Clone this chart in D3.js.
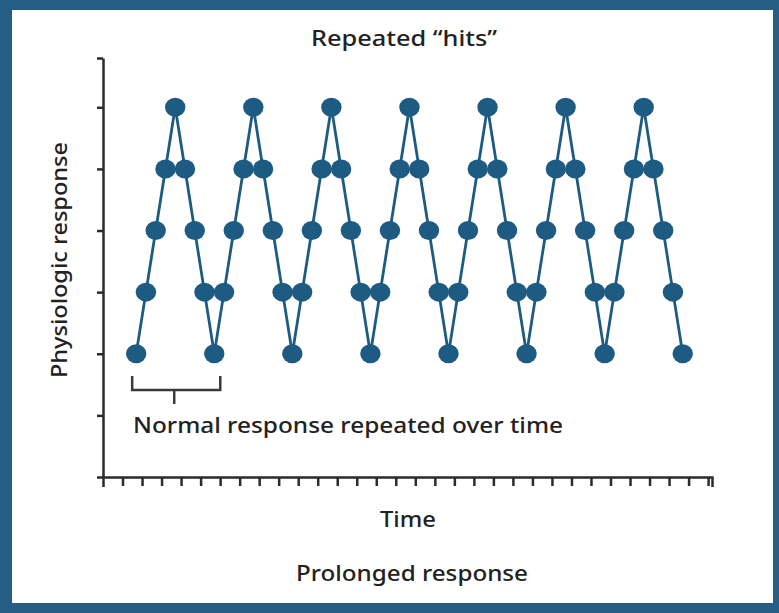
<!DOCTYPE html>
<html>
<head>
<meta charset="utf-8">
<script src="https://cdn.jsdelivr.net/npm/d3@7"></script>
<style>
  html, body { margin: 0; padding: 0; background: #ffffff; }
  svg { display: block; }
  text { font-family: "Noto Sans", "Open Sans", sans-serif; fill: #222222; font-weight: 500; }
</style>
</head>
<body>
<script>
// Time steps (one per measured response) and the response level at each step
const timeSteps = d3.range(0, 57);
const responseLevels = [
  2, 3, 4, 5, 6, 5, 4, 3, 2,
  3, 4, 5, 6, 5, 4, 3, 2,
  3, 4, 5, 6, 5, 4, 3, 2,
  3, 4, 5, 6, 5, 4, 3, 2,
  3, 4, 5, 6, 5, 4, 3, 2,
  3, 4, 5, 6, 5, 4, 3, 2,
  3, 4, 5, 6, 5, 4, 3, 2
];
// Unlabelled tick marks
const yTickValues = [0, 1, 2, 3, 4, 5, 6, 6.8];
const xTickValues = d3.range(-1.4, 59, 2);
// Bracket marks the first full response (steps 0 to 8)
const bracketSpan = [0, 8];

const titleText = "Repeated \u201chits\u201d";
const yLabelText = "Physiologic response";
const xLabelText = "Time";
const bracketText = "Normal response repeated over time";
const footerText = "Prolonged response";

const W = 779, H = 613;
const blue = "#1e5b83";
const frameBlue = "#255e84";
const ink = "#2b2b2b";

const svg = d3.select("body").append("svg")
  .attr("width", W).attr("height", H);

// Frame
svg.append("rect").attr("x", 0).attr("y", 0).attr("width", W).attr("height", H)
  .attr("fill", frameBlue);
svg.append("rect").attr("x", 12).attr("y", 10).attr("width", 761).attr("height", 593)
  .attr("fill", "#ffffff");

const x = d3.scaleLinear().domain([-3.4, 59]).range([103, 712]);
const y = d3.scaleLinear().domain([0, 6.8]).range([477, 58]);

// Axes
const yAxis = d3.axisLeft(y).tickValues(yTickValues).tickFormat("")
  .tickSize(6).tickSizeOuter(0);
const xAxis = d3.axisBottom(x).tickValues(xTickValues).tickFormat("")
  .tickSize(9).tickSizeOuter(10);

const gy = svg.append("g").attr("transform", `translate(${x(-3.4)},0)`).call(yAxis);
const gx = svg.append("g").attr("transform", `translate(0,${y(0)})`).call(xAxis);
[gx, gy].forEach(g => {
  g.select(".domain").attr("stroke", ink).attr("stroke-width", 2.5);
  g.selectAll(".tick line").attr("stroke", ink).attr("stroke-width", 2.5);
});

// Response line and points
const pts = timeSteps.map((t, i) => [t, responseLevels[i]]);
svg.append("path")
  .datum(pts)
  .attr("fill", "none")
  .attr("stroke", blue)
  .attr("stroke-width", 2.8)
  .attr("d", d3.line().x(d => x(d[0])).y(d => y(d[1])));

svg.append("g").selectAll("ellipse")
  .data(pts)
  .join("ellipse")
  .attr("cx", d => x(d[0]))
  .attr("cy", d => y(d[1]))
  .attr("rx", 10.2)
  .attr("ry", 9.5)
  .attr("fill", blue);

// Bracket under the first response
const bx0 = x(bracketSpan[0]) - 4, bx1 = x(bracketSpan[1]) + 6;
const bTop = 376, bBot = 390;
svg.append("path")
  .attr("fill", "none").attr("stroke", "#3a3a3a").attr("stroke-width", 2.5)
  .attr("d", `M${bx0},${bTop}V${bBot}H${bx1}V${bTop}`);
svg.append("line")
  .attr("x1", (bx0 + bx1) / 2 - 2).attr("x2", (bx0 + bx1) / 2 - 2)
  .attr("y1", bBot).attr("y2", 404)
  .attr("stroke", "#3a3a3a").attr("stroke-width", 2.5);

// Text
svg.append("text").attr("x", 404).attr("y", 46).attr("text-anchor", "middle")
  .attr("font-size", 22).attr("textLength", 186).attr("lengthAdjust", "spacingAndGlyphs")
  .text(titleText);
svg.append("text").attr("x", 133).attr("y", 433)
  .attr("font-size", 21).attr("textLength", 430).attr("lengthAdjust", "spacingAndGlyphs")
  .text(bracketText);
svg.append("text").attr("x", 408).attr("y", 527).attr("text-anchor", "middle")
  .attr("font-size", 22).attr("textLength", 56).attr("lengthAdjust", "spacingAndGlyphs")
  .text(xLabelText);
svg.append("text").attr("x", 412).attr("y", 581).attr("text-anchor", "middle")
  .attr("font-size", 22).attr("textLength", 232).attr("lengthAdjust", "spacingAndGlyphs")
  .text(footerText);
svg.append("text")
  .attr("transform", "translate(67,260) rotate(-90)")
  .attr("text-anchor", "middle")
  .attr("font-size", 22).attr("textLength", 236).attr("lengthAdjust", "spacingAndGlyphs")
  .text(yLabelText);
</script>
</body>
</html>
